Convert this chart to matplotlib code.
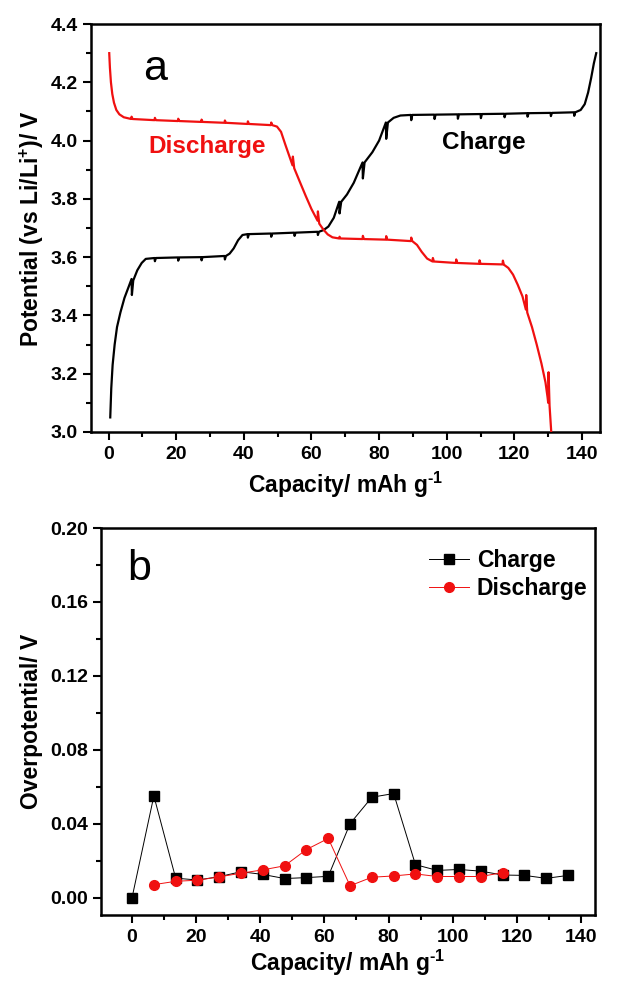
import matplotlib
matplotlib.use("Agg")
import matplotlib.pyplot as plt
from matplotlib.ticker import MultipleLocator

plt.rcParams.update({
    "font.family": ["Liberation Sans", "DejaVu Sans"],
    "font.weight": "bold",
    "mathtext.fontset": "custom",
    "mathtext.rm": "Liberation Sans:bold",
    "mathtext.bf": "Liberation Sans:bold",
    "axes.linewidth": 1.8,
})

# ---- panel a: GITT charge / discharge profiles ----
charge_cap = [0.5, 0.8, 1.2, 1.8, 2.5, 3.5, 4.7, 6.0, 6.8, 6.9, 7.3, 8.5, 9.8, 11.0,
              13.6, 13.7, 14.0, 20.5, 20.6, 20.9, 27.4, 27.5, 27.8, 34.3, 34.4, 34.7,
              35.8, 37.0, 38.3, 39.6, 41.1, 41.2, 41.5, 48.0, 48.1, 48.4, 54.9, 55.0,
              55.3, 61.8, 61.9, 62.2, 63.6, 65.0, 66.6, 68.2, 68.3, 68.8, 70.5, 72.5,
              75.1, 75.2, 75.7, 78.0, 80.0, 82.0, 82.1, 82.6, 84.3, 86.3, 89.4, 89.5,
              89.8, 96.3, 96.4, 96.7, 103.2, 103.3, 103.6, 110.0, 110.1, 110.4, 117.0,
              117.1, 117.4, 123.8, 123.9, 124.2, 130.7, 130.8, 131.1, 137.6, 137.7,
              138.0, 139.6, 140.8, 141.8, 142.7, 143.5, 144.2]
charge_v = [3.05, 3.15, 3.23, 3.30, 3.36, 3.41, 3.46, 3.50, 3.525, 3.47, 3.52, 3.555,
            3.58, 3.594, 3.597, 3.586, 3.597, 3.599, 3.588, 3.599, 3.600, 3.589, 3.600,
            3.604, 3.592, 3.604, 3.612, 3.630, 3.658, 3.676, 3.679, 3.667, 3.679,
            3.681, 3.670, 3.681, 3.684, 3.673, 3.684, 3.687, 3.676, 3.687, 3.693,
            3.705, 3.735, 3.790, 3.750, 3.790, 3.815, 3.855, 3.925, 3.870, 3.925,
            3.960, 4.000, 4.062, 4.006, 4.062, 4.078, 4.086, 4.088, 4.070, 4.088,
            4.089, 4.074, 4.089, 4.090, 4.075, 4.090, 4.091, 4.077, 4.091, 4.092,
            4.080, 4.092, 4.094, 4.082, 4.094, 4.095, 4.084, 4.095, 4.097, 4.085,
            4.097, 4.105, 4.125, 4.165, 4.215, 4.265, 4.30]

discharge_cap = [0.2, 0.4, 0.7, 1.1, 1.6, 2.3, 3.2, 4.5, 6.7, 6.8, 7.1, 13.6, 13.7, 14.0,
                 20.5, 20.6, 20.9, 27.4, 27.5, 27.8, 34.3, 34.4, 34.7, 41.1, 41.2,
                 41.5, 48.0, 48.1, 48.4, 49.8, 51.0, 52.3, 54.4, 54.5, 54.9, 56.5,
                 58.3, 60.0, 61.8, 61.9, 62.3, 63.5, 64.8, 66.2, 68.2, 68.3, 68.6,
                 75.1, 75.2, 75.5, 82.0, 82.1, 82.4, 89.4, 89.5, 89.8, 91.2, 92.6,
                 94.2, 95.8, 95.9, 96.2, 102.7, 102.8, 103.1, 109.6, 109.7, 110.0,
                 116.5, 116.6, 116.9, 118.2, 119.6, 121.0, 122.4, 123.4, 123.5, 123.8,
                 125.2, 126.6, 128.0, 129.2, 129.8, 130.0, 130.1, 130.4, 130.9]
discharge_v = [4.30, 4.25, 4.20, 4.16, 4.13, 4.105, 4.09, 4.08, 4.074, 4.082, 4.074,
               4.070, 4.078, 4.070, 4.067, 4.075, 4.067, 4.064, 4.072, 4.064, 4.061,
               4.069, 4.061, 4.057, 4.066, 4.057, 4.053, 4.062, 4.053, 4.048, 4.030,
               3.985, 3.915, 3.945, 3.905, 3.860, 3.810, 3.765, 3.725, 3.757, 3.715,
               3.695, 3.678, 3.668, 3.664, 3.670, 3.664, 3.662, 3.673, 3.662, 3.660,
               3.672, 3.660, 3.655, 3.667, 3.655, 3.642, 3.618, 3.595, 3.585, 3.597,
               3.585, 3.580, 3.592, 3.580, 3.577, 3.589, 3.577, 3.575, 3.588, 3.574,
               3.563, 3.540, 3.505, 3.465, 3.420, 3.470, 3.410, 3.360, 3.300, 3.235,
               3.170, 3.120, 3.100, 3.205, 3.090, 3.00]

# ---- panel b: overpotential at each relaxation point ----
ov_charge_cap = [0, 6.8, 13.6, 20.4, 27.2, 34.0, 40.8, 47.6, 54.4, 61.2, 68.0, 74.8,
                 81.6, 88.4, 95.2, 102.0, 108.8, 115.6, 122.4, 129.2, 136.0]
ov_charge = [0.000, 0.055, 0.0105, 0.0095, 0.0113, 0.0140, 0.0125, 0.0103, 0.0108,
             0.0115, 0.0400, 0.0543, 0.0563, 0.0178, 0.0147, 0.0152, 0.0143, 0.0122,
             0.0120, 0.0104, 0.0120]
ov_discharge_cap = [6.8, 13.6, 20.4, 27.2, 34.0, 40.8, 47.6, 54.4, 61.2, 68.0, 74.8,
                    81.6, 88.4, 95.2, 102.0, 108.8, 115.6]
ov_discharge = [0.0070, 0.0088, 0.0094, 0.0112, 0.0132, 0.0150, 0.0172, 0.0260, 0.0320,
                0.0064, 0.0110, 0.0117, 0.0128, 0.0114, 0.0114, 0.0114, 0.0135]

RED = "#f01010"
LABEL_FS = 16.5
TICK_FS = 14
XLABEL = r"Capacity/ mAh g$^{\text{-1}}$"

fig = plt.figure(figsize=(6.21, 9.84), dpi=100)
fig.patch.set_facecolor("white")
ax1 = fig.add_axes([0.1465, 0.561, 0.8196, 0.4146])
ax2 = fig.add_axes([0.1626, 0.070, 0.7955, 0.3934])


def style_axes(ax):
    ax.tick_params(which="both", direction="out", top=False, right=False,
                   labelsize=TICK_FS, width=1.5)
    ax.tick_params(which="major", length=6)
    ax.tick_params(which="minor", length=3.5)
    ax.tick_params(axis="x", which="major", pad=4)
    for lbl in ax.get_xticklabels() + ax.get_yticklabels():
        lbl.set_fontweight("bold")


# ---- panel a ----
ax1.plot(charge_cap, charge_v, color="black", lw=1.6, zorder=3)
ax1.plot(discharge_cap, discharge_v, color=RED, lw=1.6, zorder=3)
ax1.set_xlim(-5.2, 145.3)
ax1.set_ylim(3.0, 4.4)
ax1.xaxis.set_major_locator(MultipleLocator(20))
ax1.xaxis.set_minor_locator(MultipleLocator(10))
ax1.yaxis.set_major_locator(MultipleLocator(0.2))
ax1.yaxis.set_minor_locator(MultipleLocator(0.1))
ax1.yaxis.set_major_formatter(lambda v, _: f"{v:.1f}")
style_axes(ax1)
ax1.set_xlabel(XLABEL, fontsize=LABEL_FS, fontweight="bold", labelpad=5)
ax1.set_ylabel(r"Potential (vs Li/Li$^{+}$)/ V", fontsize=LABEL_FS, fontweight="bold",
               labelpad=3)
ax1.text(13.7, 4.245, "a", fontsize=31, fontweight="normal", ha="center", va="center")
ax1.text(29.0, 3.98, "Discharge", color=RED, fontsize=17.5, fontweight="bold",
         ha="center", va="center")
ax1.text(111.0, 3.995, "Charge", color="black", fontsize=17.5, fontweight="bold",
         ha="center", va="center")

# ---- panel b ----
ax2.plot(ov_charge_cap, ov_charge, color="black", lw=0.7, marker="s", markersize=6.5,
         label="Charge", zorder=3)
ax2.plot(ov_discharge_cap, ov_discharge, color=RED, lw=0.7, marker="o", markersize=7,
         label="Discharge", zorder=4)
ax2.set_xlim(-9.7, 144.4)
ax2.set_ylim(-0.0095, 0.20)
ax2.xaxis.set_major_locator(MultipleLocator(20))
ax2.xaxis.set_minor_locator(MultipleLocator(10))
ax2.yaxis.set_major_locator(MultipleLocator(0.04))
ax2.yaxis.set_minor_locator(MultipleLocator(0.02))
ax2.yaxis.set_major_formatter(lambda v, _: f"{v:.2f}")
style_axes(ax2)
ax2.set_xlabel(XLABEL, fontsize=LABEL_FS, fontweight="bold", labelpad=1)
ax2.set_ylabel("Overpotential/ V", fontsize=LABEL_FS, fontweight="bold", labelpad=5)
ax2.text(2.2, 0.178, "b", fontsize=31, fontweight="normal", ha="center", va="center")
ax2.legend(loc="upper right", bbox_to_anchor=(0.985, 0.945), frameon=False,
           borderpad=0, borderaxespad=0,
           prop={"size": 16.5, "weight": "bold"}, handlelength=1.75,
           handletextpad=0.35, labelspacing=0.2)

fig.savefig("out.png", dpi=100, facecolor="white")
